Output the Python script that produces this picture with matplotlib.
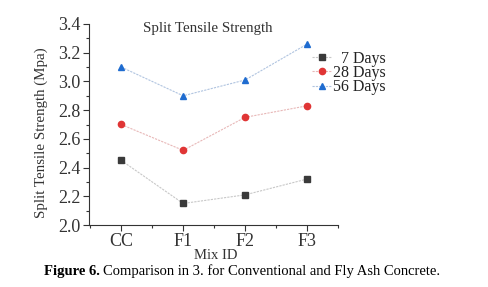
import matplotlib
matplotlib.use("Agg")
import matplotlib.pyplot as plt
from matplotlib.ticker import MultipleLocator, AutoMinorLocator

mixes = ["CC", "F1", "F2", "F3"]
days7 = [2.45, 2.15, 2.21, 2.32]
days28 = [2.70, 2.52, 2.75, 2.83]
days56 = [3.10, 2.90, 3.01, 3.26]

plt.rcParams['font.family'] = ['Liberation Serif', 'DejaVu Serif']

W, H = 489, 287
fig = plt.figure(figsize=(W / 100, H / 100), dpi=100)
ax = fig.add_axes([89 / W, 1 - 225 / H, (338 - 89) / W, (225 - 24) / H])

x = range(len(mixes))
ax.plot(x, days7, color='#c8c8c8', lw=0.8, ls=(0, (2, 1)), marker='s', ms=4,
        mfc='#3a3a3a', mec='#3a3a3a', label='  7 Days')
ax.plot(x, days28, color='#e8b8b8', lw=0.8, ls=(0, (2, 1)), marker='o', ms=4.5,
        mfc='#e03535', mec='#e03535', label='28 Days')
ax.plot(x, days56, color='#b0c4e0', lw=0.8, ls=(0, (2, 1)), marker='^', ms=5,
        mfc='#1f6cd0', mec='#1f6cd0', label='56 Days')

ax.set_xlim(-0.52, 3.5)
ax.set_ylim(2.0, 3.4)
ax.set_xticks(list(x))
ax.set_xticklabels(mixes)
ax.xaxis.set_minor_locator(MultipleLocator(0.5))
ax.yaxis.set_major_locator(MultipleLocator(0.2))
ax.yaxis.set_minor_locator(AutoMinorLocator(2))
ax.tick_params(labelsize=13, colors='#333333', length=4, width=0.8, pad=2)
ax.tick_params(which='minor', length=2.5, width=0.8, colors='#333333')
for s in ['top', 'right']:
    ax.spines[s].set_visible(False)
for s in ['left', 'bottom']:
    ax.spines[s].set_color('#333333')
    ax.spines[s].set_linewidth(0.8)

ax.set_ylabel('Split Tensile Strength (Mpa)', fontsize=10.8, color='#333333')
ax.yaxis.set_label_coords(-0.165, 0.46)
ax.set_xlabel('Mix ID', fontsize=10.5, color='#333333')
ax.xaxis.set_label_coords(0.51, -0.118)
ax.text(0.475, 0.98, 'Split Tensile Strength', transform=ax.transAxes, ha='center',
        va='center', fontsize=10.8, color='#333333')

leg = fig.legend(loc='center left', bbox_to_anchor=(312 / W, 1 - 73 / H), frameon=False,
                 fontsize=11.5, handlelength=1.2, handletextpad=0.1, labelspacing=-0.1,
                 borderaxespad=0, borderpad=0)
for t in leg.get_texts():
    t.set_color('#222222')

fig.text(44 / W, 1 - 271 / H, 'Figure 6.', fontsize=10.5, weight='bold',
         ha='left', va='center')
fig.text(103 / W, 1 - 271 / H, 'Comparison in 3. for Conventional and Fly Ash Concrete.',
         fontsize=10.5, ha='left', va='center')

fig.savefig('out.png', dpi=100)
